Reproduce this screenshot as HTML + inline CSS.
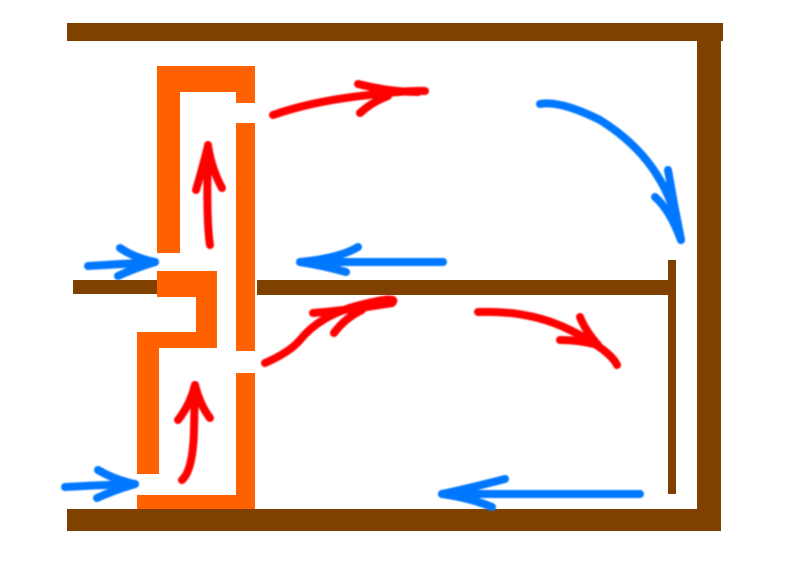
<!DOCTYPE html>
<html><head><style>html,body{margin:0;padding:0;background:#fff}svg{display:block}</style></head>
<body>
<svg width="800" height="566" viewBox="0 0 800 566" xmlns="http://www.w3.org/2000/svg">
<defs><filter id="b" x="-10%" y="-10%" width="120%" height="120%"><feGaussianBlur stdDeviation="0.9"/></filter></defs>
<rect width="800" height="566" fill="#fff"/>
<g fill="#804000">
<rect x="67" y="23" width="656" height="18"/>
<rect x="697" y="23" width="24" height="498"/>
<rect x="67" y="509" width="654" height="22"/>
<rect x="73" y="280" width="84" height="14"/>
<rect x="257" y="280" width="419" height="15"/>
<rect x="668" y="260" width="8" height="234"/>
</g>
<g fill="#ff6000">
<rect x="157" y="66" width="98" height="26"/>
<rect x="157" y="66" width="23" height="187"/>
<rect x="236" y="66" width="19" height="37"/>
<rect x="236" y="123" width="19" height="228"/>
<rect x="236" y="373" width="19" height="136"/>
<rect x="157" y="271" width="60" height="26"/>
<rect x="196" y="271" width="21" height="77"/>
<rect x="137" y="332" width="80" height="16"/>
<rect x="137" y="332" width="22" height="142"/>
<rect x="137" y="495" width="118" height="14"/>
</g>
<g fill="none" stroke-linecap="round" stroke-linejoin="round" stroke-width="8" filter="url(#b)">
<g stroke="#ff0000">
<path d="M273 115 Q310 102 360 96 T425 91"/>
<path d="M358 84 Q390 92 418 92"/>
<path d="M360 113 Q372 102 388 96"/>
<path d="M210 245 Q206 220 208 145"/>
<path d="M196 190 Q202 170 208 146 Q212 170 222 188"/>
<path d="M265 363 Q290 352 300 340 Q320 315 360 305 T392 303"/>
<path d="M313 313 Q350 310 392 303"/>
<path d="M334 333 Q345 318 362 310"/>
<path d="M478 312 Q530 310 570 330 T617 365"/>
<path d="M580 317 Q585 330 598 345"/>
<path d="M560 340 Q580 340 598 345"/>
<path d="M182 480 Q193 470 194 430 L195 385"/>
<path d="M178 420 Q190 405 195 385 Q200 405 210 418"/>
</g>
<g stroke="#0077ff">
<path d="M540 104 Q560 100 600 120 Q640 145 660 180 Q675 205 681 240"/>
<path d="M668 170 Q674 205 681 240"/>
<path d="M655 197 Q670 210 681 240"/>
<path d="M443 262 L300 262"/>
<path d="M358 247 Q340 258 300 262 Q325 266 346 272"/>
<path d="M88 266 Q120 264 155 262"/>
<path d="M120 248 Q135 258 155 262 Q135 268 118 276"/>
<path d="M65 487 Q100 485 135 484"/>
<path d="M98 470 Q115 480 135 484 Q115 490 97 498"/>
<path d="M640 494 L442 494"/>
<path d="M505 479 Q470 488 442 494 Q470 498 492 507"/>
</g>
</g>
</svg>
</body></html>
